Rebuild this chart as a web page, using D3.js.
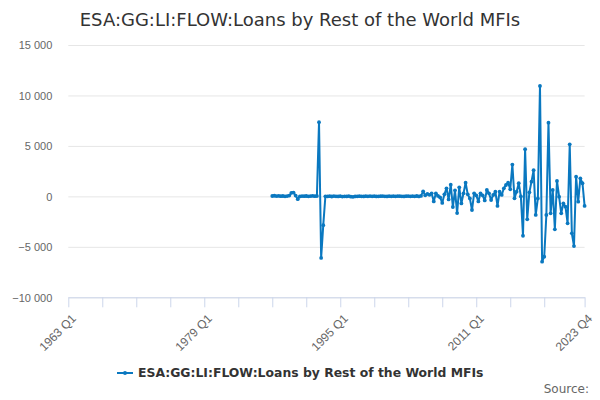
<!DOCTYPE html>
<html>
<head>
<meta charset="utf-8">
<script src="https://cdn.jsdelivr.net/npm/d3@7"></script>
<style>
    html, body { margin: 0; padding: 0; background: #fff; }
    svg { display: block; font-family: "DejaVu Sans", sans-serif; }
</style>
</head>
<body>
<div id="chart"></div>
<script>
// quarterly series, starts in 1987 Q1 (earlier quarters empty)
var firstYear = 1963,
    lastYear = 2023,
    seriesStart = "1987 Q1",
    seriesName = "ESA:GG:LI:FLOW:Loans by Rest of the World MFIs";

var values = [
    40, 60, 30, 50, 20, 40, 10, 30, 80, 350, 380, 80, -280, 0, 30, 20, 40, 10, 30, 50, 20, 40,
    7350, -6100, -2850,
    10, 0, 20, -10, 30, 10, 0, 20, -20, 10, 0, 30, -30, -40, 0, 10, 20, 10, 0, 20, 10, 30,
    10, 20, 0, 10, 20, 30, 10, 0, 20, 10, 20, 10, 30, 20, 10, 0, 20, 30, 10, 20, 10, 40,
    0, 50, 500, 100, 250, 150, 300, -500, 300, 50, -100, -650, 200, 800, -300, 1150,
    -1050, 600, -1650, 900, -700, 300, 1350, 200, -200, -1350, 300, 100, -500, 300, 100, -400,
    630, 300, -360, 140, 470, -950, 470, 140, 800, 1130, 1360, 700, 3150, -190, 470, 1300,
    0, -3900, 4670, -2270, 400, 1460, 2600, -1840, -200,
    10940, -6470, -5970, -1840, 7300, -1680, 630, -3260, 1530, -30, -1680, -690, -1020,
    -2670, 5160, -3660, -4920, 1950, -520, 1790, 1300, -950
];

var yTicks = [-10000, -5000, 0, 5000, 10000, 15000];
var xTickLabels = ["1963 Q1", "1979 Q1", "1995 Q1", "2011 Q1", "2023 Q4"];
var xMinorTickLabels = ["1967 Q1", "1971 Q1", "1975 Q1", "1983 Q1", "1987 Q1", "1991 Q1",
    "1999 Q1", "2003 Q1", "2007 Q1", "2015 Q1", "2019 Q1"];

// category list (all quarters of the axis)
var quarters = [];
for (var yr = firstYear; yr <= lastYear; yr++) {
    for (var q = 1; q <= 4; q++) quarters.push(yr + " Q" + q);
}
var startIdx = quarters.indexOf(seriesStart);
var data = values.map(function (v, i) {
    return {period: quarters[startIdx + i], value: v};
});

var o = {w: 600, h: 400, left: 68.3, right: 584.6, top: 45, bottom: 297.3};
var color = "#0a78c0";

var svg = d3.select("#chart").append("svg")
    .attr("width", o.w)
    .attr("height", o.h);

var x = d3.scalePoint()
        .domain(quarters)
        .range([o.left, o.right]),
    y = d3.scaleLinear()
        .domain([-10000, 15000])
        .range([o.bottom, o.top]);

// title
svg.append("text")
    .attr("x", 300)
    .attr("y", 26)
    .attr("text-anchor", "middle")
    .style("font-size", "18px")
    .style("fill", "#333")
    .text(seriesName);

// grid + y labels
var yAxis = d3.axisLeft(y)
    .tickValues(yTicks)
    .tickSize(-(o.right - o.left))
    .tickPadding(16)
    .tickFormat(function (d) {
        return d3.format(",")(d).replace(/,/g, " ");
    });

var gy = svg.append("g")
    .attr("transform", "translate(" + o.left + ",0)")
    .call(yAxis);
gy.select(".domain").remove();
gy.selectAll("line").style("stroke", "#e6e6e6");
gy.selectAll("text")
    .style("font-size", "11px")
    .style("fill", "#666")
    .attr("dy", "0.36em");

// x axis
var xAxis = d3.axisBottom(x)
    .tickValues(xTickLabels.concat(xMinorTickLabels))
    .tickSize(10)
    .tickSizeOuter(0)
    .tickFormat(function (d) {
        return xTickLabels.indexOf(d) >= 0 ? d : "";
    });

var gx = svg.append("g")
    .attr("transform", "translate(0," + o.bottom + ")")
    .call(xAxis);
gx.select(".domain").style("stroke", "#ccd6eb");
gx.selectAll("line").style("stroke", "#ccd6eb");
gx.selectAll("text")
    .style("font-size", "12px")
    .style("fill", "#666")
    .attr("text-anchor", "end")
    .attr("transform", "translate(5,19) rotate(-45)")
    .attr("dy", "0.35em")
    .attr("y", 0);

// series
var line = d3.line()
    .x(function (d) { return x(d.period); })
    .y(function (d) { return y(d.value); });

svg.append("path")
    .datum(data)
    .attr("d", line)
    .style("fill", "none")
    .style("stroke", color)
    .style("stroke-width", 2)
    .style("stroke-linejoin", "round");

svg.append("g")
    .selectAll("circle")
    .data(data)
    .enter()
    .append("circle")
    .attr("cx", function (d) { return x(d.period); })
    .attr("cy", function (d) { return y(d.value); })
    .attr("r", 1.9)
    .style("fill", color);

// legend
var legend = svg.append("g").attr("transform", "translate(117,373)");
legend.append("line")
    .attr("x1", 0).attr("x2", 16)
    .style("stroke", color)
    .style("stroke-width", 2);
legend.append("circle")
    .attr("cx", 8).attr("r", 2)
    .style("fill", color);
legend.append("text")
    .attr("x", 21)
    .attr("dy", "0.35em")
    .style("font-size", "12.4px")
    .style("font-weight", "bold")
    .style("fill", "#333")
    .text(seriesName);

// credits
svg.append("text")
    .attr("x", 589)
    .attr("y", 393)
    .attr("text-anchor", "end")
    .style("font-size", "12px")
    .style("fill", "#666")
    .text("Source:");
</script>
</body>
</html>
